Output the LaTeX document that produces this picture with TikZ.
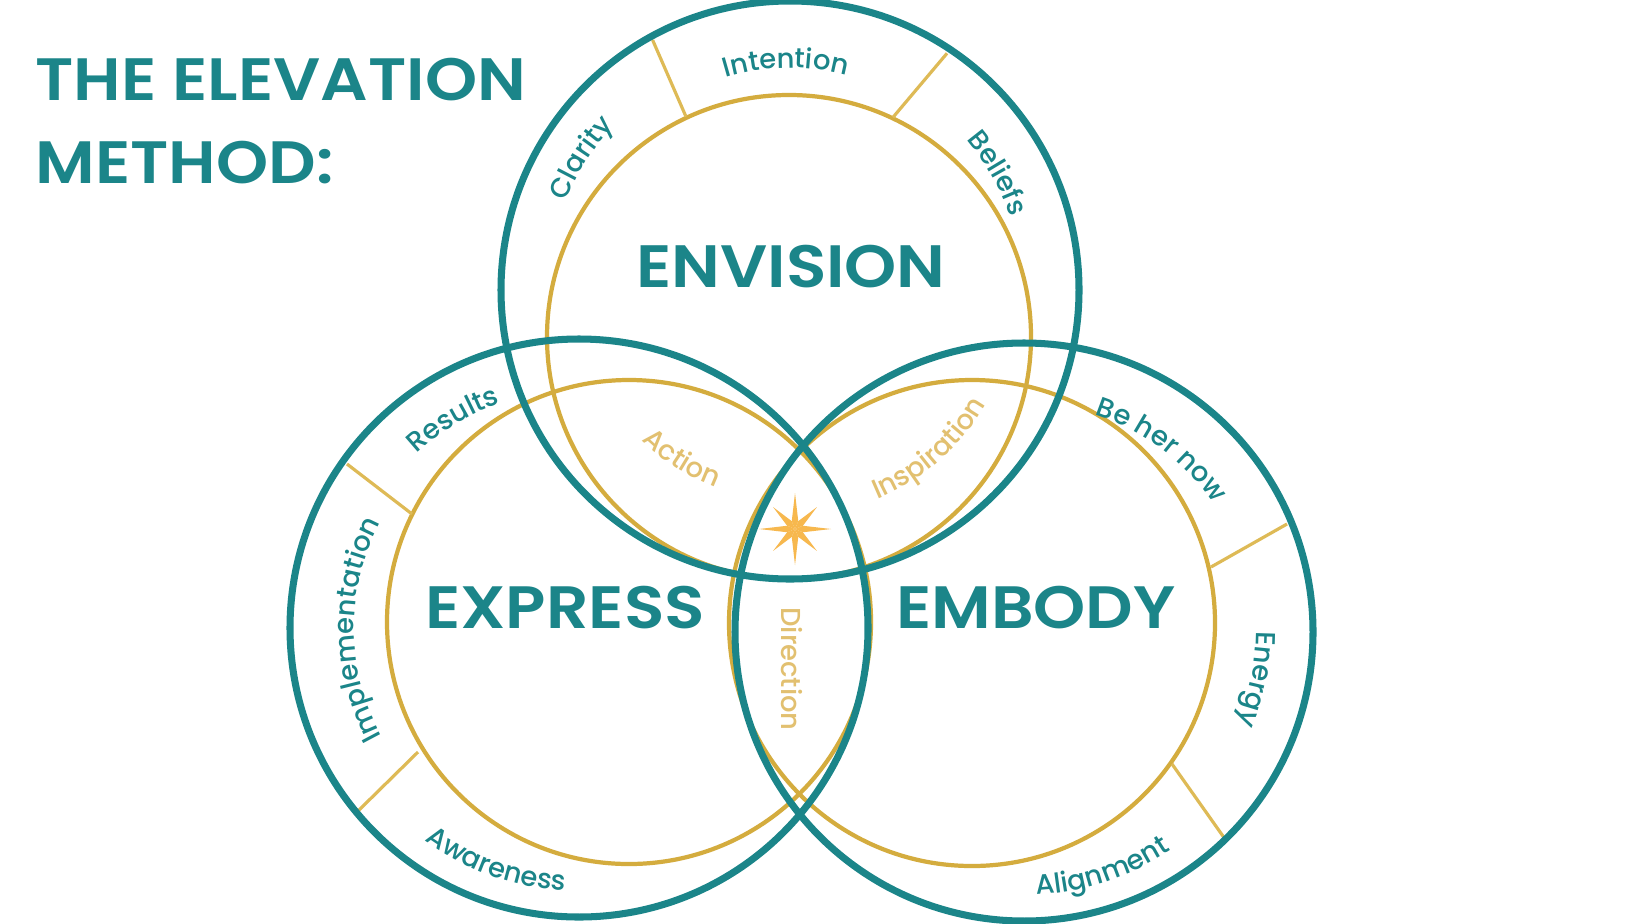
\documentclass[tikz,border=0pt]{standalone}
\usepackage{fontspec}
\setmainfont{Poppins}
\newfontfamily\headfont{Poppins SemiBold}
\newfontfamily\ringfont{Poppins Medium}
\newcommand\lblfont{\ringfont\fontsize{7.8}{9}\selectfont}
\newcommand\wide[1]{\scalebox{1.11}[1]{#1}}
\usepackage{tikz}
\usetikzlibrary{decorations.text}
\definecolor{elteal}{RGB}{27,133,137}
\definecolor{elgold}{RGB}{212,172,62}
\definecolor{eldiv}{RGB}{222,186,86}
\definecolor{elgoldtext}{RGB}{226,192,112}
\definecolor{elstar}{RGB}{247,184,78}

\begin{document}
\begin{tikzpicture}[x=0.01cm, y=0.01cm,
	ring/.style={draw=elteal, line width=2pt},
	goldring/.style={draw=elgold, line width=1.2pt},
	divider/.style={draw=eldiv, line width=0.9pt},
	head/.style={font=\headfont\fontsize{17}{20}\selectfont, text=elteal, inner sep=0pt},
	outtext/.style={decorate, decoration={text along path, text align=center, text color=elteal, text={|\lblfont|#1}}},
	intext/.style={decorate, decoration={text along path, text align=center, text color=elgoldtext, text={|\lblfont|#1}}}]
	\fill[white] (0,0) rectangle (1640,923);
	\useasboundingbox (0,0) rectangle (1640,923);
	\coordinate (top) at (790,633);
	\coordinate (left) at (579,295);
	\coordinate (right) at (1024,291);
	\coordinate (gtop) at (789,586);
	\coordinate (gleft) at (629,301);
	\coordinate (gright) at (972,300);
	\coordinate (star) at (795,394);
	\draw[goldring] (gtop) circle[radius=242];
	\draw[goldring] (gleft) circle[radius=242];
	\draw[goldring] (gright) circle[radius=243];
	\draw[divider] (652.6,883) -- (686,806.3) (947,869.7) -- (893,805.7);
	\draw[divider] (347,459) -- (412,409) (357,111) -- (418,171);
	\draw[divider] (1287,399) -- (1211,356) (1172,159) -- (1225,84);
	\draw[ring] (top) circle[radius=289];
	\draw[ring] (left) circle[radius=289];
	\draw[ring] (right) circle[radius=289];
	\foreach \a/\l in {0/36,45/31,90/36,135/31,180/36,225/31,270/36,315/31}
		\fill[elstar, shift={(star)}] (0,0) -- (\a+22.5:8.5) -- (\a:\l) -- (\a-22.5:8.5) -- cycle;
	\node[head, anchor=base west] (title1) at (35,823) {\wide{THE ELEVATION}};
	\node[head, anchor=base west] (title2) at (35,740) {\wide{METHOD:}};
	\node[head, anchor=base] (envision) at (791,636) {\wide{ENVISION}};
	\node[head, anchor=base] (express) at (565,295) {\wide{EXPRESS}};
	\node[head, anchor=base] (embody) at (1036,295) {\wide{EMBODY}};
	\path[outtext=Intention] (top) ++(131:222) arc[start angle=131, end angle=51, radius=222];
	\path[outtext=Clarity] (top) ++(187.7:241) arc[start angle=187.7, end angle=107.7, radius=241];
	\path[outtext=Beliefs] (top) ++(69.4:232) arc[start angle=69.4, end angle=-10.6, radius=232];
	\path[outtext=Results] (left) ++(161.1:238) arc[start angle=161.1, end angle=81.1, radius=238];
	\path[outtext=Implementation] (left) ++(220.4:225) arc[start angle=220.4, end angle=140.4, radius=225];
	\path[outtext=Awareness] (left) ++(210.5:263) arc[start angle=210.5, end angle=290.5, radius=263];
	\path[outtext=Be her now] (right) ++(93:229) arc[start angle=93, end angle=13, radius=229];
	\path[outtext=Energy] (right) ++(28.5:232) arc[start angle=28.5, end angle=-51.5, radius=232];
	\path[outtext=Alignment] (right) ++(-111.7:263) arc[start angle=-111.7, end angle=-31.7, radius=263];
	\path[intext=Action] (top) ++(197.4:211) arc[start angle=197.4, end angle=277.4, radius=211];
	\path[intext=Inspiration] (top) ++(-88.8:227) arc[start angle=-88.8, end angle=-8.8, radius=227];
	\path[intext=Direction] (781,334) -- (781,174);
\end{tikzpicture}
\end{document}
